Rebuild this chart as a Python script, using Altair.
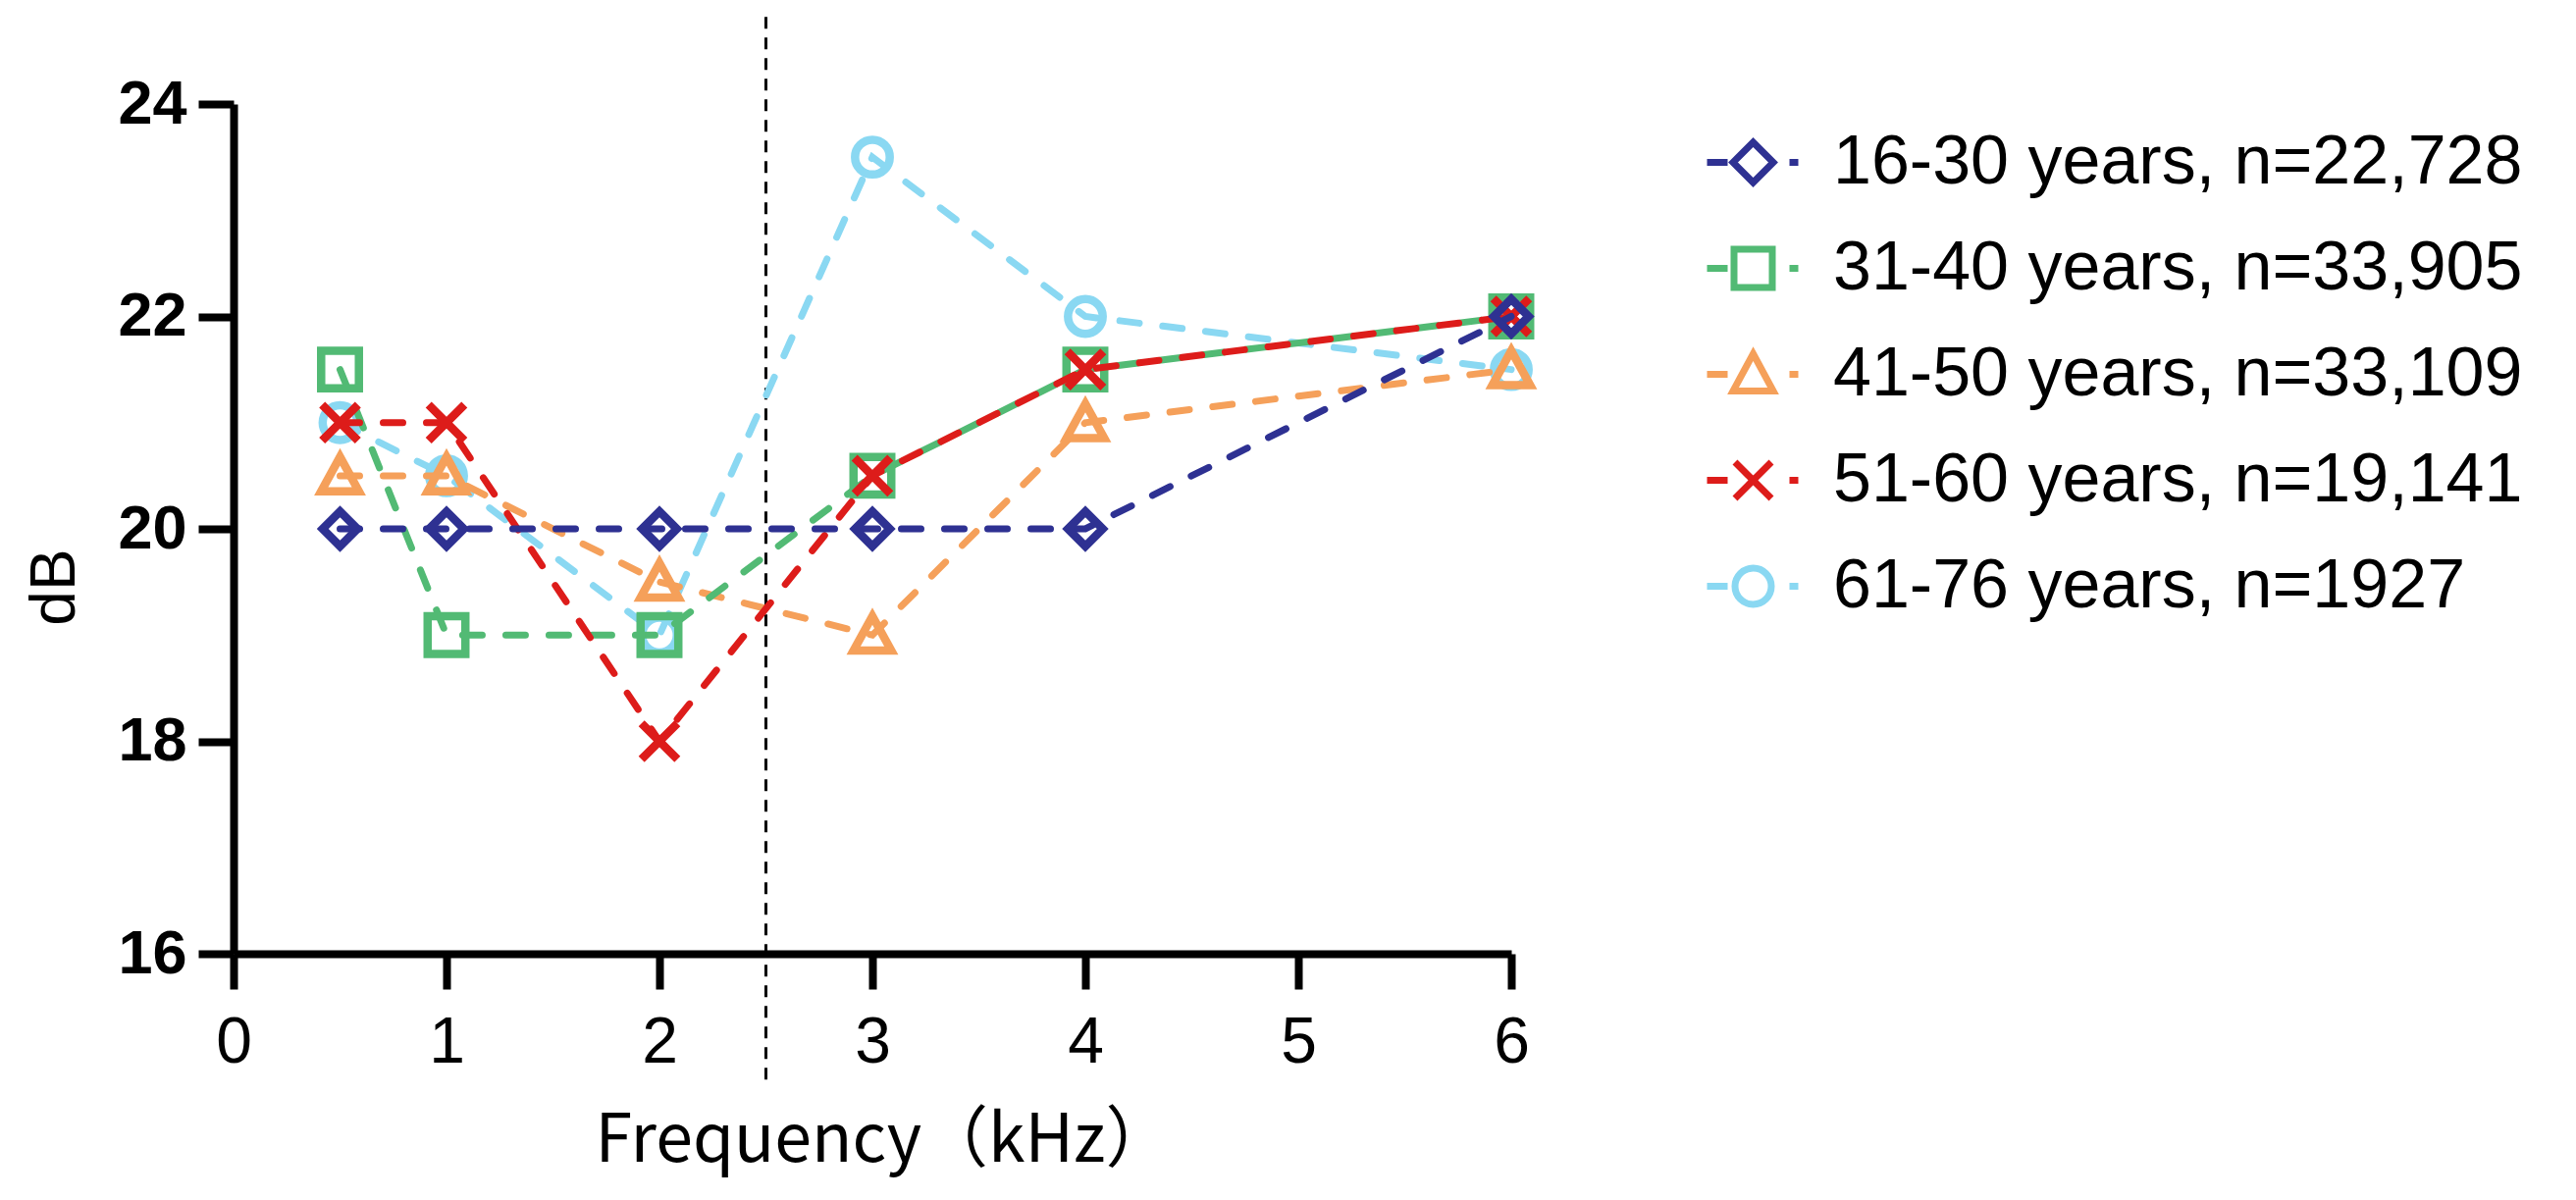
import altair as alt
import pandas as pd

# ---------------- data ----------------
freq_khz = [0.5, 1, 2, 3, 4, 6]
series_names = [
    "16-30 years, n=22,728",
    "31-40 years, n=33,905",
    "41-50 years, n=33,109",
    "51-60 years, n=19,141",
    "61-76 years, n=1927",
]
db_16_30 = [20, 20, 20, 20, 20, 22]
db_31_40 = [21.5, 19, 19, 20.5, 21.5, 22]
db_41_50 = [20.5, 20.5, 19.5, 19, 21, 21.5]
db_51_60 = [21, 21, 18, 20.5, 21.5, 22]
db_61_76 = [21, 20.5, 19, 23.5, 22, 21.5]
series_values = [db_16_30, db_31_40, db_41_50, db_51_60, db_61_76]

x_ticks = [0, 1, 2, 3, 4, 5, 6]
y_ticks = [16, 18, 20, 22, 24]
divider_khz = [2.5]
divider_top_db = [24.82]
divider_bottom_db = [14.75]

# ---------------- styles ----------------
colors = ["#2E3192", "#52BA74", "#F5A05A", "#DD1C1A", "#8AD8F2"]
plot_shapes = [
    "M0,-0.92L0.92,0L0,0.92L-0.92,0Z",                      # diamond
    "M-1,-1L1,-1L1,1L-1,1Z",                                 # square
    "M0,-1L1,0.82L-1,0.82Z",                                 # triangle
    "M-0.95,-0.95L0.95,0.95M-0.95,0.95L0.95,-0.95",          # x
    "M-0.92,0A0.92,0.92 0 1,0 0.92,0A0.92,0.92 0 1,0 -0.92,0Z",  # circle
]
dash_l = "M-0.94,0L-0.52,0"
dash_r = "M0.74,0L0.92,0"
legend_shapes = [
    dash_l + "M0,-0.41L0.41,0L0,0.41L-0.41,0Z" + dash_r,
    dash_l + "M-0.39,-0.39L0.39,-0.39L0.39,0.39L-0.39,0.39Z" + dash_r,
    dash_l + "M0,-0.42L0.41,0.34L-0.41,0.34Z" + dash_r,
    dash_l + "M-0.37,-0.37L0.37,0.37M-0.37,0.37L0.37,-0.37" + dash_r,
    dash_l + "M-0.37,0A0.37,0.37 0 1,0 0.37,0A0.37,0.37 0 1,0 -0.37,0Z" + dash_r,
]
draw_order = [4, 2, 1, 3, 0]

rows = []
for name, vals in zip(series_names, series_values):
    for f, v in zip(freq_khz, vals):
        rows.append({"series": name, "freq": f, "db": v})
df = pd.DataFrame(rows)

div_df = pd.DataFrame({"freq": divider_khz, "db": divider_top_db, "db_end": divider_bottom_db})

x_scale = alt.Scale(domain=[0, 6], nice=False, zero=False)
y_scale = alt.Scale(domain=[16, 24], nice=False, zero=False)

x_axis = alt.Axis(
    values=x_ticks, grid=False, domainColor="black", domainWidth=8,
    tickColor="black", tickWidth=8, tickSize=36,
    labelFont="Liberation Sans", labelFontSize=66, labelColor="black",
    labelPadding=22, labelFlush=False,
    title="Frequency（kHz）", titleFont="Noto Sans CJK SC", titleFontSize=68,
    titleFontWeight="normal", titleColor="black",
    titleX=662, titleY=211, titleBaseline="alphabetic", titleAlign="center",
)
y_axis = alt.Axis(
    values=y_ticks, grid=False, domainColor="black", domainWidth=8,
    tickColor="black", tickWidth=8, tickSize=36,
    labelFont="Liberation Sans", labelFontSize=63, labelFontWeight="bold",
    labelColor="black", labelPadding=12, labelFlush=False,
    title="dB", titleFont="Liberation Sans", titleFontSize=64,
    titleFontWeight="normal", titleColor="black",
    titleX=-182, titleY=492, titleAngle=270, titleBaseline="middle",
    titleAlign="center",
)


def X():
    return alt.X("freq:Q", scale=x_scale, axis=x_axis)


def Y():
    return alt.Y("db:Q", scale=y_scale, axis=y_axis)


layers = []
layers.append(
    alt.Chart(div_df)
    .mark_rule(color="black", strokeWidth=3, strokeDash=[12, 9], clip=False)
    .encode(x=X(), y=Y(), y2="db_end:Q")
)

for i in draw_order:
    sub = df[df["series"] == series_names[i]]
    layers.append(
        alt.Chart(sub)
        .mark_line(color=colors[i], strokeWidth=7, strokeDash=[20, 24], strokeCap="round")
        .encode(x=X(), y=Y())
    )
    layers.append(
        alt.Chart(sub)
        .mark_point(shape=plot_shapes[i], size=1480, filled=False, strokeWidth=8.5,
                    color=colors[i], opacity=1)
        .encode(x=X(), y=Y())
    )

legend_def = alt.Legend(
    title=None, orient="none", legendX=1495, legendY=6,
    symbolSize=10000, symbolStrokeWidth=7, symbolOpacity=1,
    labelFont="Liberation Sans", labelFontSize=70, labelColor="black",
    labelOffset=28, labelLimit=2000, rowPadding=19, padding=0,
)
layers.append(
    alt.Chart(df)
    .transform_filter("false")
    .mark_point(filled=False, strokeWidth=7)
    .encode(
        x=X(), y=Y(),
        color=alt.Color("series:N", scale=alt.Scale(domain=series_names, range=colors),
                        legend=legend_def, sort=series_names),
        shape=alt.Shape("series:N", scale=alt.Scale(domain=series_names, range=legend_shapes),
                        legend=legend_def, sort=series_names),
    )
)

chart = (
    alt.layer(*layers)
    .properties(
        width=1302, height=866,
        autosize=alt.AutoSizeParams(type="none"),
        padding={"left": 230, "top": 98, "right": 1068, "bottom": 236},
        background="white",
    )
    .configure_view(stroke=None)
)

chart.save("out.html", embed_options={"renderer": "svg", "actions": False})
